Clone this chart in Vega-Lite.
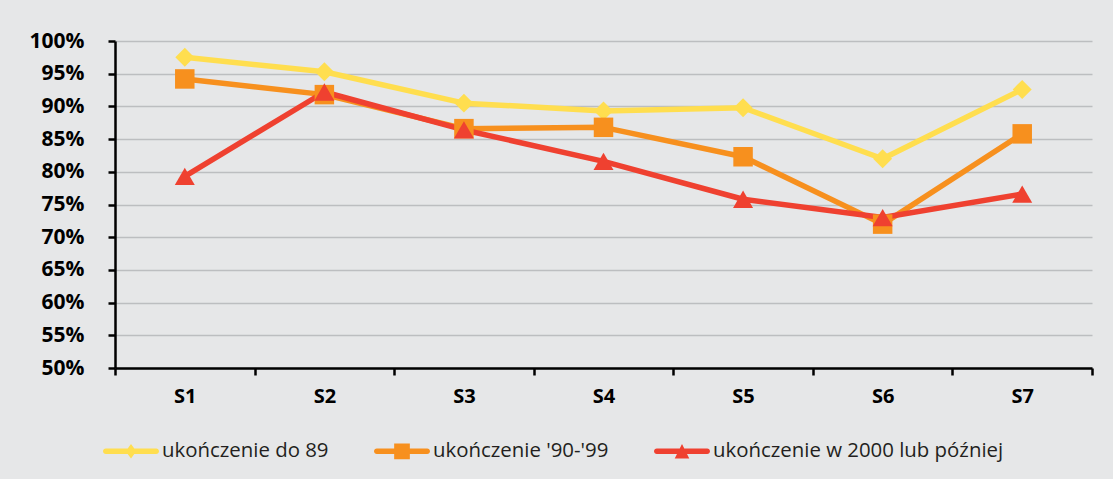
{
  "$schema": "https://vega.github.io/schema/vega-lite/v6.json",
  "width": 977,
  "height": 327,
  "autosize": {"type": "none"},
  "padding": {"left": 115, "top": 41, "right": 21, "bottom": 111},
  "background": "#E6E7E8",
  "config": {
    "view": {"stroke": null},
    "font": "Open Sans"
  },
  "data": {
    "values": [
      {"s": "S1", "series": "ukończenie do 89", "mk": "a", "v": 0.975},
      {"s": "S2", "series": "ukończenie do 89", "mk": "a", "v": 0.953},
      {"s": "S3", "series": "ukończenie do 89", "mk": "a", "v": 0.905},
      {"s": "S4", "series": "ukończenie do 89", "mk": "a", "v": 0.893},
      {"s": "S5", "series": "ukończenie do 89", "mk": "a", "v": 0.898},
      {"s": "S6", "series": "ukończenie do 89", "mk": "a", "v": 0.820},
      {"s": "S7", "series": "ukończenie do 89", "mk": "a", "v": 0.926},
      {"s": "S1", "series": "ukończenie '90-'99", "mk": "b", "v": 0.942},
      {"s": "S2", "series": "ukończenie '90-'99", "mk": "b", "v": 0.918},
      {"s": "S3", "series": "ukończenie '90-'99", "mk": "b", "v": 0.866},
      {"s": "S4", "series": "ukończenie '90-'99", "mk": "b", "v": 0.868},
      {"s": "S5", "series": "ukończenie '90-'99", "mk": "b", "v": 0.823},
      {"s": "S6", "series": "ukończenie '90-'99", "mk": "b", "v": 0.720},
      {"s": "S7", "series": "ukończenie '90-'99", "mk": "b", "v": 0.858},
      {"s": "S1", "series": "ukończenie w 2000 lub później", "mk": "c", "v": 0.793},
      {"s": "S2", "series": "ukończenie w 2000 lub później", "mk": "c", "v": 0.922},
      {"s": "S3", "series": "ukończenie w 2000 lub później", "mk": "c", "v": 0.864},
      {"s": "S4", "series": "ukończenie w 2000 lub później", "mk": "c", "v": 0.816},
      {"s": "S5", "series": "ukończenie w 2000 lub później", "mk": "c", "v": 0.758},
      {"s": "S6", "series": "ukończenie w 2000 lub później", "mk": "c", "v": 0.730},
      {"s": "S7", "series": "ukończenie w 2000 lub później", "mk": "c", "v": 0.766}
    ]
  },
  "encoding": {
    "x": {
      "field": "s",
      "type": "nominal",
      "sort": null,
      "scale": {"paddingInner": 0, "paddingOuter": 0},
      "axis": {
        "title": null,
        "labelAngle": 0,
        "labelFont": "Open Sans",
        "labelFontSize": 20,
        "labelFontWeight": "bold",
        "labelColor": "#000000",
        "labelPadding": 11,
        "tickBand": "extent",
        "tickSize": 7,
        "tickWidth": 2.5,
        "tickColor": "#000000",
        "domainColor": "#000000",
        "domainWidth": 2.5,
        "grid": false
      }
    },
    "y": {
      "field": "v",
      "type": "quantitative",
      "scale": {"domain": [0.5, 1], "nice": false, "zero": false},
      "axis": {
        "title": null,
        "values": [0.5, 0.55, 0.6, 0.65, 0.7, 0.75, 0.8, 0.85, 0.9, 0.95, 1],
        "format": ".0%",
        "labelFont": "Open Sans",
        "labelFontSize": 21,
        "labelFontWeight": "bold",
        "labelColor": "#000000",
        "labelPadding": 24,
        "tickSize": 7,
        "tickWidth": 2.5,
        "tickColor": "#000000",
        "domainColor": "#000000",
        "domainWidth": 2.5,
        "grid": true,
        "gridColor": "#BCBEC0",
        "gridWidth": 1.5
      }
    },
    "color": {
      "field": "series",
      "type": "nominal",
      "sort": null,
      "scale": {
        "domain": ["ukończenie do 89", "ukończenie '90-'99", "ukończenie w 2000 lub później"],
        "range": ["#FFDE4F", "#F7901E", "#EF4130"]
      },
      "legend": {
        "title": null,
        "orient": "none",
        "legendX": -12,
        "legendY": 382,
        "direction": "horizontal",
        "padding": 0,
        "symbolSize": 3136,
        "symbolStrokeWidth": 0,
        "symbolOpacity": 1,
        "labelOffset": 3,
        "labelLimit": 0,
        "columnPadding": 45,
        "labelFont": "Open Sans",
        "labelFontSize": 20.4,
        "labelColor": "#231F20",
        "encode": {
          "symbols": {
            "update": {
              "shape": {"signal": "datum.index == 0 ? 'M-0.9,-0.1H0.9A0.1,0.1 0 0 1 0.9,0.1H-0.9A0.1,0.1 0 0 1 -0.9,-0.1Z M0,-0.26L0.19,0L0,0.26L-0.19,0Z' : datum.index == 1 ? 'M-0.9,-0.1H0.9A0.1,0.1 0 0 1 0.9,0.1H-0.9A0.1,0.1 0 0 1 -0.9,-0.1Z M-0.28,-0.28H0.28V0.28H-0.28Z' : 'M-0.9,-0.1H0.9A0.1,0.1 0 0 1 0.9,0.1H-0.9A0.1,0.1 0 0 1 -0.9,-0.1Z M0,-0.26L0.26,0.26H-0.26Z'"},
              "fill": {"scale": "color", "field": "value"},
              "opacity": {"value": 1},
              "fillOpacity": {"value": 1},
              "strokeWidth": {"value": 0}
            }
          }
        }
      }
    }
  },
  "layer": [
    {
      "mark": {"type": "line", "strokeWidth": 5.5, "strokeJoin": "round"},
      "encoding": {"detail": {"field": "series"}}
    },
    {
      "mark": {"type": "point", "filled": true, "opacity": 1},
      "encoding": {
        "shape": {
          "field": "mk",
          "type": "nominal",
          "scale": {
            "domain": ["a", "b", "c"],
            "range": ["diamond", "square", "triangle-up"]
          },
          "legend": null
        },
        "size": {
          "field": "mk",
          "type": "nominal",
          "scale": {
            "domain": ["a", "b", "c"],
            "range": [360, 400, 440]
          },
          "legend": null
        }
      }
    }
  ]
}
